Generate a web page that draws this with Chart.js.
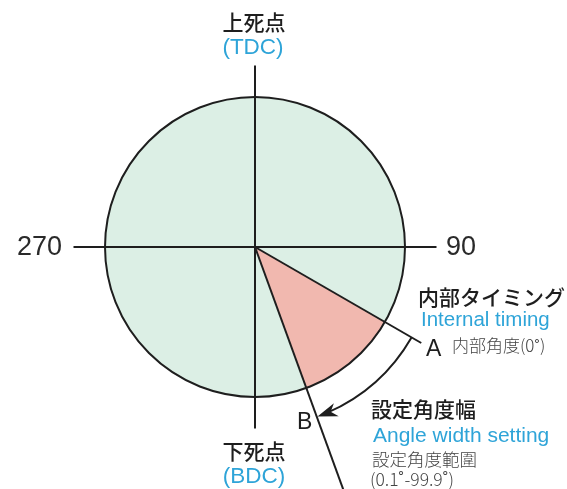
<!DOCTYPE html>
<html>
<head>
<meta charset="utf-8">
<script src="https://cdn.jsdelivr.net/npm/chart.js@4"></script>
<style>
  html, body { margin:0; padding:0; background:#fff; }
  #wrap { width:567px; height:489px; position:relative; }
</style>
</head>
<body>
<div id="wrap"><canvas id="c" width="567" height="489"></canvas></div>
<script>
/* ── data ── */
const segLabels   = ['TDC → A', 'A → B (設定角度幅)', 'B → TDC'];
const segDegrees  = [120, 40, 200];          // clockwise from TDC
const segColors   = ['#dcefe5', '#f1b8af', '#dcefe5'];
const axisLabels  = ['270', '90'];
const topLabel    = ['上死点', '(TDC)'];
const bottomLabel = ['下死点', '(BDC)'];
const timingLabel = ['内部タイミング', 'Internal timing', '内部角度(0˚)'];
const widthLabel  = ['設定角度幅', 'Angle width setting', '設定角度範圍', '(0.1˚-99.9˚)'];
const pointLabels = ['A', 'B'];

const INK  = '#1e1e1e';
const BLUE = '#2ea4d8';
const JP   = '"Noto Sans CJK JP", sans-serif';
const LAT  = '"Liberation Sans", Arial, sans-serif';

/* ────────────────────────────────────────
   OVERLAY: axes, radial lines, arrow, text
──────────────────────────────────────── */
const overlay = {
  id: 'overlay',
  afterDatasetsDraw(chart) {
    const ctx  = chart.ctx;
    const arcs = chart.getDatasetMeta(0).data;
    const { x: cx, y: cy, outerRadius: r } = arcs[0].getProps(['x','y','outerRadius'], true);
    const aA = arcs[1].getProps(['startAngle'], true).startAngle;
    const aB = arcs[1].getProps(['endAngle'], true).endAngle;
    const pt = (a, d) => [cx + Math.cos(a) * d, cy + Math.sin(a) * d];

    ctx.save();
    ctx.strokeStyle = INK;
    ctx.lineWidth = 2;
    ctx.lineCap = 'butt';

    // outline
    ctx.beginPath(); ctx.arc(cx, cy, r, 0, Math.PI * 2); ctx.stroke();

    // axes
    const ext = r * 1.21;
    ctx.beginPath();
    ctx.moveTo(cx - ext, cy); ctx.lineTo(cx + ext, cy);
    ctx.moveTo(cx, cy - ext); ctx.lineTo(cx, cy + ext);
    ctx.stroke();

    // radial lines A and B
    let p = pt(aA, r * 1.28);
    ctx.beginPath(); ctx.moveTo(cx, cy); ctx.lineTo(p[0], p[1]); ctx.stroke();
    p = pt(aB, r * 1.9);
    ctx.beginPath(); ctx.moveTo(cx, cy); ctx.lineTo(p[0], p[1]); ctx.stroke();

    // angle-width arrow (A → B)
    const ra = r * 1.205;
    const a1 = aB - 0.06;
    ctx.beginPath(); ctx.arc(cx, cy, ra, aA, a1); ctx.stroke();
    const tip = pt(aB - 0.004, ra);
    const tx = -Math.sin(aB), ty = Math.cos(aB);   // tangent (clockwise)
    const nx = Math.cos(aB),  ny = Math.sin(aB);
    ctx.fillStyle = INK;
    ctx.beginPath();
    ctx.moveTo(tip[0], tip[1]);
    ctx.lineTo(tip[0] - tx * 20 + nx * 7, tip[1] - ty * 20 + ny * 7);
    ctx.lineTo(tip[0] - tx * 14, tip[1] - ty * 14);
    ctx.lineTo(tip[0] - tx * 20 - nx * 7, tip[1] - ty * 20 - ny * 7);
    ctx.closePath(); ctx.fill();

    // texts
    ctx.textBaseline = 'middle';
    const txt = (s, x, y, font, col, align = 'left') => {
      ctx.font = font; ctx.fillStyle = col; ctx.textAlign = align; ctx.fillText(s, x, y);
    };
    txt(topLabel[0], 254, 22, `500 21px ${JP}`, INK, 'center');
    txt(topLabel[1], 253, 48, `22.5px ${LAT}`, BLUE, 'center');
    txt(bottomLabel[0], 254, 451, `500 21px ${JP}`, INK, 'center');
    txt(bottomLabel[1], 254, 477, `22.5px ${LAT}`, BLUE, 'center');
    txt(axisLabels[0], 17, cy + 1, `27px ${LAT}`, '#2a2a2a');
    txt(axisLabels[1], 446, cy + 1, `27px ${LAT}`, '#2a2a2a');

    txt(timingLabel[0], 418, 297, `500 21px ${JP}`, INK);
    txt(timingLabel[1], 421, 320, `20.5px ${LAT}`, BLUE);
    txt(pointLabels[0], 426, 350, `23px ${LAT}`, INK);
    txt(timingLabel[2], 452, 346, `300 17px ${JP}`, '#444');

    txt(pointLabels[1], 297, 423, `23px ${LAT}`, INK);
    txt(widthLabel[0], 371, 409, `500 21px ${JP}`, INK);
    txt(widthLabel[1], 373, 436, `21px ${LAT}`, BLUE);
    txt(widthLabel[2], 372, 459, `300 17.5px ${JP}`, '#444');
    txt(widthLabel[3], 370, 479, `300 17.5px ${JP}`, '#444');
    ctx.restore();
  }
};

new Chart(document.getElementById('c'), {
  type: 'pie',
  data: {
    labels: segLabels,
    datasets: [{ data: segDegrees, backgroundColor: segColors, borderWidth: 0 }],
  },
  options: {
    responsive: false,
    animation: false,
    layout: { padding: { left: 105, right: 162, top: 97, bottom: 92 } },
    plugins: { legend: { display: false }, tooltip: { enabled: false } },
  },
  plugins: [overlay],
});
</script>
</body>
</html>
